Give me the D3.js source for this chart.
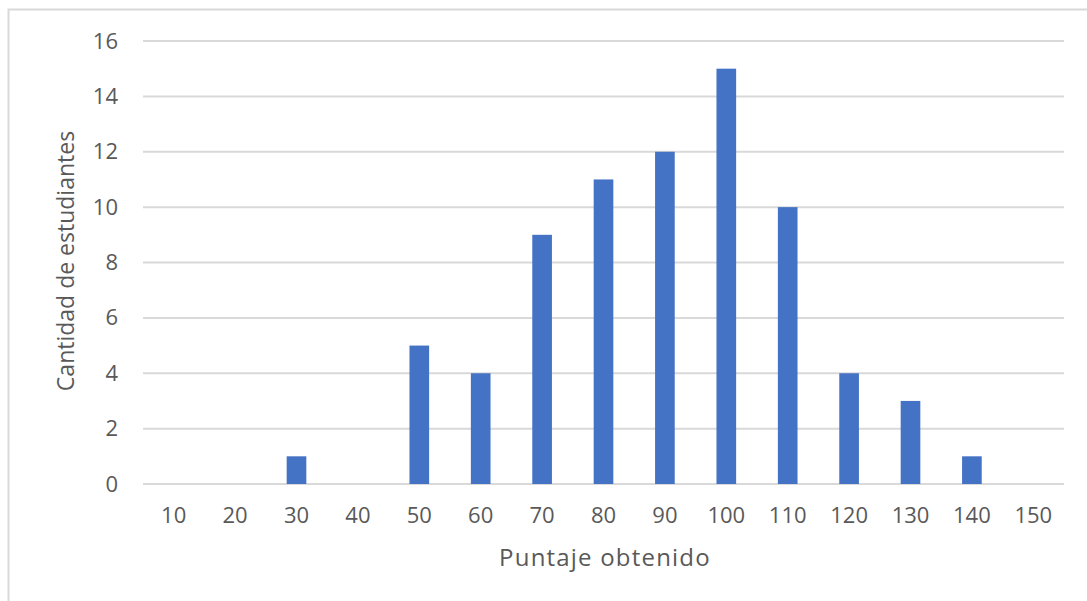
<!DOCTYPE html>
<html>
<head>
<meta charset="utf-8">
<script src="https://cdn.jsdelivr.net/npm/d3@7"></script>
<style>
  html, body { margin: 0; padding: 0; background: #fff; }
  svg text { font-family: "Open Sans", "Noto Sans", sans-serif; fill: #595959; }
</style>
</head>
<body>
<svg id="chart" width="1087" height="601"></svg>
<script>
// Puntajes (categorías) y número de estudiantes en cada uno
const puntajes = ["10", "20", "30", "40", "50", "60", "70", "80", "90", "100", "110", "120", "130", "140", "150"];
const estudiantes = [0, 0, 1, 0, 5, 4, 9, 11, 12, 15, 10, 4, 3, 1, 0];
const yTicks = [0, 2, 4, 6, 8, 10, 12, 14, 16];

const svg = d3.select("#chart");
const plot = { left: 143, right: 1064, top: 41, bottom: 484 };

// chart frame
svg.append("path")
  .attr("d", "M8.5,601 V9.5 H1087")
  .attr("fill", "none")
  .attr("stroke", "#d9d9d9")
  .attr("stroke-width", 2);

const x = d3.scaleBand().domain(puntajes).range([plot.left, plot.right]).padding(0);
const y = d3.scaleLinear().domain([0, 16]).range([plot.bottom, plot.top]);

// horizontal gridlines
svg.append("g").selectAll("line").data(yTicks).join("line")
  .attr("x1", plot.left).attr("x2", plot.right)
  .attr("y1", d => y(d)).attr("y2", d => y(d))
  .attr("stroke", "#d9d9d9").attr("stroke-width", 2);

// y axis labels
const yAxis = d3.axisLeft(y).tickValues(yTicks).tickSize(0).tickPadding(0);
svg.append("g").attr("transform", "translate(118,0)").call(yAxis)
  .call(g => g.select(".domain").remove())
  .selectAll("text").style("font-size", "22px").attr("fill", "#595959");

// x axis labels
const xAxis = d3.axisBottom(x).tickSize(0).tickPadding(0);
svg.append("g").attr("transform", "translate(0,507)").call(xAxis)
  .call(g => g.select(".domain").remove())
  .selectAll("text").style("font-size", "22px").attr("fill", "#595959");

// bars
const barW = x.bandwidth() * 0.32;
svg.append("g").selectAll("rect").data(puntajes.map((p, i) => ({ p, v: estudiantes[i] }))).join("rect")
  .attr("x", d => x(d.p) + (x.bandwidth() - barW) / 2)
  .attr("width", barW)
  .attr("y", d => y(d.v))
  .attr("height", d => y(0) - y(d.v))
  .attr("fill", "#4472C4");

// axis titles
svg.append("text")
  .attr("x", 605).attr("y", 566)
  .attr("text-anchor", "middle")
  .style("font-size", "24px")
  .style("letter-spacing", "1.2px")
  .text("Puntaje obtenido");

svg.append("text")
  .attr("transform", "translate(74,261) rotate(-90)")
  .attr("text-anchor", "middle")
  .style("font-size", "23px")
  .text("Cantidad de estudiantes");
</script>
</body>
</html>
